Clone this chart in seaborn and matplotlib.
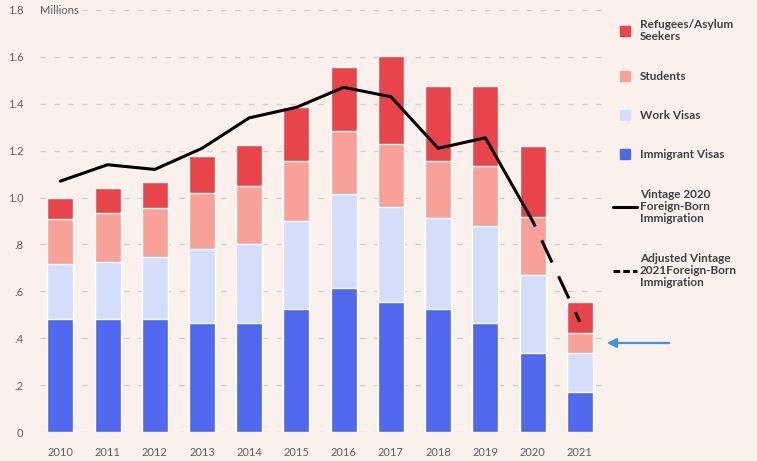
import numpy as np
import pandas as pd
import matplotlib
matplotlib.use("Agg")
import matplotlib.pyplot as plt
import matplotlib.lines as mlines
import seaborn as sns

# values in millions
years = ['2010', '2011', '2012', '2013', '2014', '2015',
         '2016', '2017', '2018', '2019', '2020', '2021']
immigrant_visas = [0.48, 0.48, 0.48, 0.465, 0.465, 0.525, 0.615, 0.555, 0.525, 0.465, 0.337, 0.17]
work_visas = [0.235, 0.247, 0.268, 0.314, 0.335, 0.373, 0.40, 0.406, 0.387, 0.414, 0.332, 0.167]
students = [0.195, 0.205, 0.207, 0.24, 0.25, 0.26, 0.271, 0.268, 0.246, 0.257, 0.246, 0.086]
refugees = [0.09, 0.108, 0.113, 0.16, 0.175, 0.228, 0.272, 0.376, 0.318, 0.34, 0.307, 0.132]
vintage_2020 = [1.07, 1.14, 1.12, 1.21, 1.34, 1.385, 1.47, 1.43, 1.21, 1.255, 0.9]
adjusted_2021 = [0.9, 0.47]
ytick_labels = ['0', '.2', '.4', '.6', '.8', '1.0', '1.2', '1.4', '1.6', '1.8']

series_names = ['Immigrant Visas', 'Work Visas', 'Students', 'Refugees/Asylum\nSeekers']
colors = {'Immigrant Visas': '#4F68EE', 'Work Visas': '#D4DEFA',
          'Students': '#F7A198', 'Refugees/Asylum\nSeekers': '#E8444A'}
BG = '#FBF1EC'
TXT = '#5f6168'

df = pd.DataFrame({'year': years, 'Immigrant Visas': immigrant_visas,
                   'Work Visas': work_visas, 'Students': students,
                   'Refugees/Asylum\nSeekers': refugees})
cum = df[series_names].cumsum(axis=1)
cum['year'] = df['year']

sns.set_theme(style="white")
plt.rcParams['font.family'] = ['Lato', 'DejaVu Sans']

fig = plt.figure(figsize=(7.57, 4.61), dpi=100, facecolor=BG)
ax = fig.add_axes([40 / 757, 1 - 432 / 461, (603 - 40) / 757, 422 / 461])
ax.set_facecolor(BG)

# horizontal dashed grid, under the bars
yt = np.arange(0, 1.81, 0.2)
for v in yt:
    ax.axhline(v, color='#d2cecb', lw=1.0, ls=(0, (4, 6)), zorder=0)

# stacked bars: draw cumulative totals from top to bottom
for name in reversed(series_names):
    sns.barplot(data=cum, x='year', y=name, order=years, color=colors[name],
                width=0.55, saturation=1, ax=ax, zorder=2)

# foreign-born immigration lines
sns.lineplot(x=years[:11], y=vintage_2020, color='black', lw=2.2,
             ax=ax, zorder=3, sort=False)
sns.lineplot(x=years[10:], y=adjusted_2021, color='black', lw=2.2,
             ax=ax, zorder=3, sort=False)
ax.lines[-1].set_linestyle((6, (8, 5)))

ax.set_xlim(-0.43, 11.49)
ax.set_ylim(0, 1.8)
ax.set_xlabel('')
ax.set_ylabel('')
ax.set_yticks(yt)
ax.set_yticklabels(ytick_labels)
ax.tick_params(axis='both', length=0, labelsize=8, labelcolor=TXT)
ax.tick_params(axis='y', pad=12)
ax.tick_params(axis='x', pad=11)
sns.despine(ax=ax, left=True, bottom=True)

ax.text(0.0, 1.8, 'Millions', transform=ax.get_yaxis_transform(),
        fontsize=8, color=TXT, va='center', ha='left')

# legend
legend_labels = ['Refugees/Asylum\nSeekers', 'Students', 'Work Visas', 'Immigrant Visas']
handles = [mlines.Line2D([], [], color=colors[n], marker='s', ls='', markersize=7.5, label=n)
           for n in legend_labels]
handles += [mlines.Line2D([], [], color='black', lw=2.2,
                          label='Vintage 2020\nForeign-Born\nImmigration'),
            mlines.Line2D([], [], color='black', lw=2.2, ls=(0, (2.2, 1)),
                          label='Adjusted Vintage\n2021Foreign-Born\nImmigration')]
leg = fig.legend(handles=handles, loc='upper left', bbox_to_anchor=(613 / 757, 1 - 19 / 461),
                 frameon=False, fontsize=8.5, labelspacing=2.4, handlelength=2.0,
                 handletextpad=0.25, borderaxespad=0, borderpad=0)
for t in leg.get_texts():
    t.set_color('#3e414a')
    t.set_fontweight('bold')
    t.set_linespacing(1.15)

# blue arrow pointing at the 2021 bar
ax.annotate('', xy=(604 / 757, 1 - 343 / 461), xytext=(672 / 757, 1 - 343 / 461),
            xycoords='figure fraction', textcoords='figure fraction',
            arrowprops=dict(arrowstyle='-|>', color='#4A8FE3', lw=1.6, mutation_scale=14))

fig.savefig('out.png', dpi=100, facecolor=BG)
